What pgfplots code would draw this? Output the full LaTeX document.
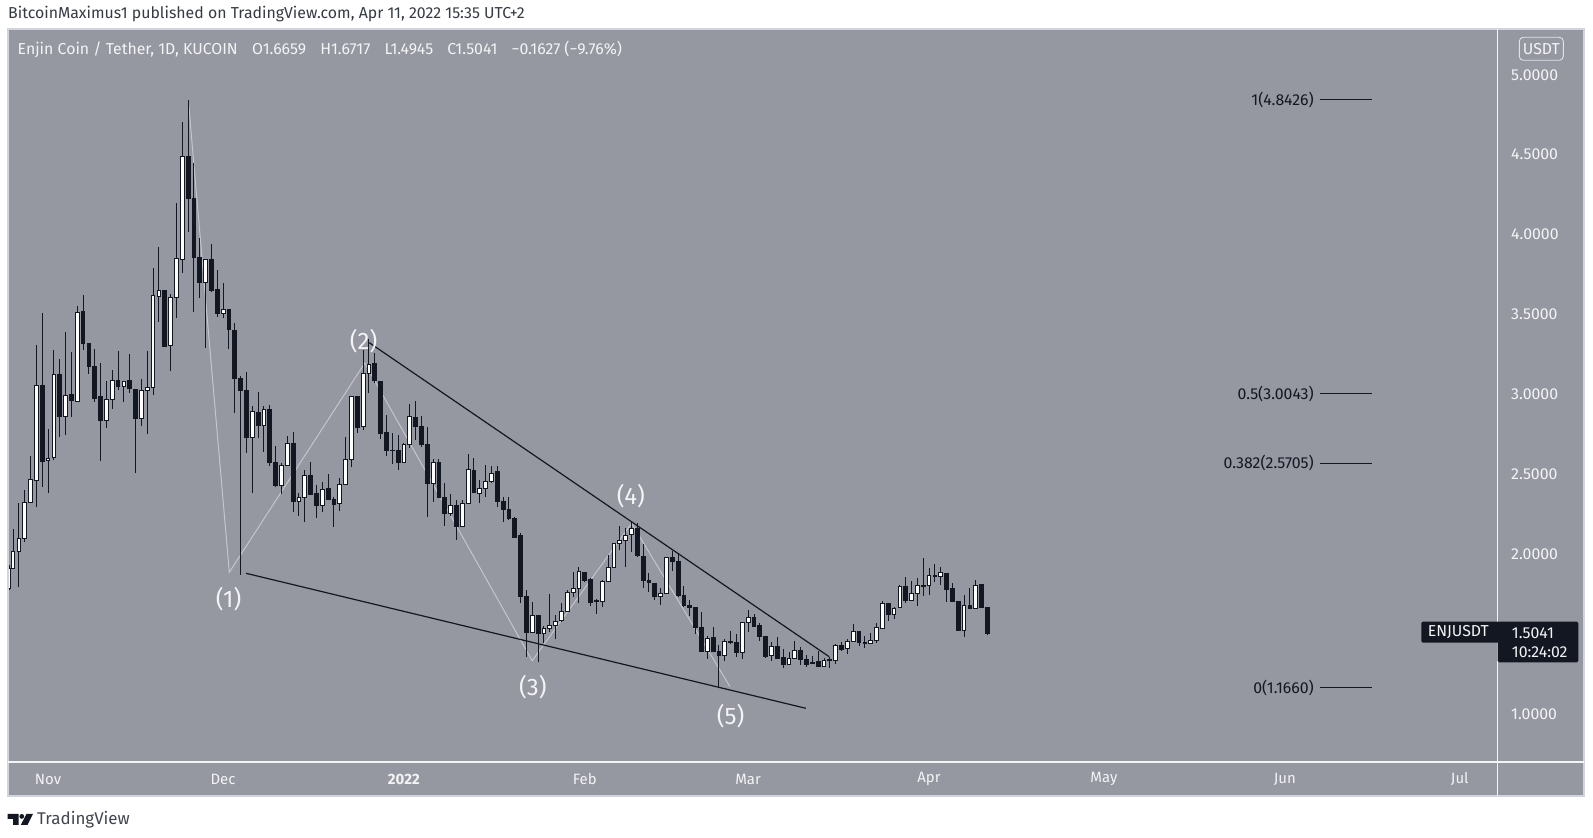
\documentclass[border=0pt]{standalone}
\usepackage{fontspec}
\usepackage{pgfplots}
\pgfplotsset{compat=1.18}
\setmainfont{Fira Sans}

\definecolor{pane}{HTML}{9598A1}
\definecolor{ink}{HTML}{131722}
\definecolor{soft}{HTML}{F4F4F6}
\definecolor{rim}{HTML}{D1D4DC}
\definecolor{wave}{HTML}{C4C6CC}

% day (0 = 1 Nov 2021), open, high, low, close
\newcommand{\candle}[6]{%
  \pgfmathsetmacro{\xa}{#1-0.32}\pgfmathsetmacro{\xb}{#1+0.32}%
  \addplot[ink,line width=0.8bp,forget plot] coordinates {(#1,#4) (#1,#3)};%
  \addplot[draw=ink,fill=#6,line width=0.75bp,line join=miter,forget plot] coordinates {(\xa,#2) (\xb,#2) (\xb,#5) (\xa,#5) (\xa,#2)} --cycle;%
}
\newcommand{\up}[5]{\candle{#1}{#2}{#3}{#4}{#5}{white}}
\newcommand{\dn}[5]{\candle{#1}{#2}{#3}{#4}{#5}{ink}}
\newcommand{\lab}{\fontsize{15.9}{18}\selectfont}
\newcommand{\mon}{\fontsize{15}{17}\selectfont}
\newcommand{\wv}{\fontsize{24}{26}\selectfont}

\begin{document}
\begin{tikzpicture}
\path[use as bounding box] (0,0) rectangle (1593bp,838bp);
\fill[white] (0,0) rectangle (1593bp,838bp);
\fill[pane] (8bp,42bp) rectangle (1584bp,809bp);

\begin{axis}[
    at={(8bp,76bp)}, anchor=south west,
    scale only axis,
    width=1489.7bp, height=733bp,
    xmin=-6.856, xmax=248.5,
    ymin=0.6996, ymax=5.2866,
    axis line style={draw=none},
    major tick length=0pt,
    xtick pos=bottom,
    ytick pos=right,
    yticklabel pos=right,
    xtick={0,30,61,92,120,151,181,212,242},
    xticklabels={Nov,Dec,\textbf{2022},Feb,Mar,Apr,May,Jun,Jul},
    ytick={1,2,2.5,3,3.5,4,4.5,5},
    xticklabel style={font=\mon,text=soft,anchor=center,yshift=-17bp},
    yticklabel style={font=\lab,text=soft,anchor=west,xshift=10bp,
        /pgf/number format/.cd,fixed,fixed zerofill,precision=4,assume math mode=true},
]
% wave count
\addplot[wave,line width=1bp] coordinates {(24.05,4.8426) (31.08,1.8867) (54.3,3.1965) (83.0,1.3335) (100.05,2.1934) (116.9,1.1708)};

\up{-6.7}{1.786}{1.932}{1.776}{1.911}
\up{-6}{1.911}{2.156}{1.911}{2.016}
\up{-5}{2.016}{2.318}{1.797}{2.099}
\up{-4}{2.099}{2.402}{2.078}{2.322}
\up{-3}{2.324}{2.614}{2.322}{2.470}
\up{-2}{2.464}{3.309}{2.297}{3.057}
\dn{-1}{3.057}{3.507}{2.423}{2.579}
\up{0}{2.587}{2.781}{2.381}{2.598}
\up{1}{2.606}{3.278}{2.589}{3.123}
\dn{2}{3.128}{3.219}{2.731}{2.861}
\up{3}{2.863}{3.393}{2.746}{2.996}
\dn{4}{2.998}{3.267}{2.861}{2.965}
\up{5}{2.959}{3.553}{2.950}{3.511}
\dn{6}{3.518}{3.622}{3.278}{3.320}
\dn{7}{3.320}{3.320}{3.128}{3.178}
\dn{8}{3.174}{3.282}{2.954}{2.975}
\dn{9}{2.986}{3.199}{2.585}{2.836}
\up{10}{2.838}{3.084}{2.790}{2.971}
\up{11}{2.971}{3.153}{2.911}{3.088}
\dn{12}{3.088}{3.274}{3.028}{3.048}
\up{13}{3.053}{3.084}{2.950}{3.084}
\dn{14}{3.090}{3.251}{3.011}{3.036}
\dn{15}{3.032}{3.032}{2.506}{2.848}
\up{16}{2.850}{3.094}{2.802}{3.023}
\up{17}{3.023}{3.272}{2.750}{3.042}
\up{18}{3.044}{3.789}{2.994}{3.620}
\up{19}{3.612}{3.925}{3.455}{3.653}
\dn{20}{3.649}{3.649}{3.299}{3.299}
\up{21}{3.307}{3.626}{3.148}{3.607}
\up{22}{3.607}{4.196}{3.476}{3.851}
\up{23}{3.845}{4.703}{3.762}{4.490}
\dn{24}{4.490}{4.8426}{4.018}{4.225}
\dn{25}{4.225}{4.446}{3.518}{3.858}
\dn{26}{3.860}{3.977}{3.601}{3.704}
\up{27}{3.704}{3.845}{3.288}{3.845}
\dn{28}{3.847}{3.939}{3.639}{3.651}
\dn{29}{3.655}{3.779}{3.482}{3.505}
\up{30}{3.507}{3.695}{3.476}{3.532}
\dn{31}{3.532}{3.532}{3.282}{3.407}
\dn{32}{3.403}{3.445}{2.881}{3.098}
\dn{33}{3.103}{3.115}{1.870}{3.023}
\dn{34}{3.023}{3.142}{2.635}{2.733}
\up{35}{2.733}{2.927}{2.381}{2.894}
\dn{36}{2.888}{3.013}{2.725}{2.807}
\up{37}{2.805}{2.928}{2.642}{2.907}
\dn{38}{2.907}{2.934}{2.554}{2.573}
\dn{39}{2.573}{2.677}{2.423}{2.429}
\up{40}{2.431}{2.573}{2.375}{2.554}
\up{41}{2.554}{2.742}{2.554}{2.696}
\dn{42}{2.696}{2.763}{2.266}{2.329}
\up{43}{2.329}{2.381}{2.241}{2.354}
\up{44}{2.356}{2.527}{2.199}{2.492}
\dn{45}{2.492}{2.575}{2.370}{2.377}
\dn{46}{2.383}{2.433}{2.224}{2.304}
\up{47}{2.304}{2.454}{2.266}{2.406}
\dn{48}{2.414}{2.502}{2.337}{2.341}
\dn{49}{2.341}{2.360}{2.172}{2.310}
\up{50}{2.318}{2.475}{2.270}{2.439}
\up{51}{2.439}{2.731}{2.437}{2.594}
\up{52}{2.594}{2.986}{2.548}{2.986}
\dn{53}{2.986}{2.986}{2.756}{2.796}
\up{54}{2.798}{3.278}{2.777}{3.132}
\up{55}{3.132}{3.345}{3.007}{3.190}
\dn{56}{3.192}{3.257}{3.069}{3.086}
\dn{57}{3.084}{3.086}{2.719}{2.756}
\dn{58}{2.761}{2.871}{2.615}{2.648}
\dn{59}{2.652}{2.756}{2.564}{2.648}
\dn{60}{2.652}{2.746}{2.527}{2.577}
\up{61}{2.577}{2.698}{2.573}{2.690}
\up{62}{2.690}{2.938}{2.667}{2.861}
\dn{63}{2.859}{2.957}{2.715}{2.798}
\dn{64}{2.800}{2.865}{2.673}{2.688}
\dn{65}{2.690}{2.794}{2.235}{2.444}
\up{66}{2.444}{2.594}{2.329}{2.573}
\dn{67}{2.575}{2.594}{2.350}{2.354}
\dn{68}{2.356}{2.448}{2.179}{2.258}
\up{69}{2.256}{2.377}{2.239}{2.304}
\dn{70}{2.304}{2.339}{2.089}{2.172}
\up{71}{2.172}{2.339}{2.168}{2.316}
\up{72}{2.316}{2.625}{2.314}{2.529}
\dn{73}{2.523}{2.600}{2.381}{2.385}
\up{74}{2.381}{2.464}{2.318}{2.412}
\up{75}{2.412}{2.556}{2.360}{2.456}
\up{76}{2.456}{2.552}{2.444}{2.508}
\dn{77}{2.517}{2.552}{2.297}{2.329}
\dn{78}{2.331}{2.360}{2.199}{2.283}
\dn{79}{2.279}{2.360}{2.214}{2.224}
\dn{80}{2.226}{2.235}{2.103}{2.108}
\dn{81}{2.120}{2.131}{1.693}{1.738}
\dn{82}{1.738}{1.776}{1.359}{1.511}
\up{83}{1.511}{1.703}{1.505}{1.615}
\dn{84}{1.617}{1.617}{1.323}{1.505}
\up{85}{1.507}{1.551}{1.442}{1.536}
\up{86}{1.538}{1.749}{1.515}{1.557}
\up{87}{1.557}{1.620}{1.467}{1.582}
\up{88}{1.584}{1.697}{1.578}{1.642}
\up{89}{1.640}{1.776}{1.638}{1.763}
\up{90}{1.763}{1.891}{1.734}{1.788}
\up{91}{1.788}{1.922}{1.693}{1.893}
\dn{92}{1.888}{1.891}{1.824}{1.838}
\dn{93}{1.843}{1.849}{1.676}{1.701}
\dn{94}{1.709}{1.719}{1.626}{1.703}
\up{95}{1.705}{1.838}{1.671}{1.828}
\up{96}{1.828}{1.995}{1.824}{1.916}
\up{97}{1.918}{2.072}{1.916}{2.066}
\up{98}{2.066}{2.176}{2.026}{2.089}
\up{99}{2.089}{2.162}{1.922}{2.116}
\up{100}{2.124}{2.203}{2.016}{2.162}
\dn{101}{2.164}{2.193}{1.985}{1.995}
\dn{102}{1.989}{2.062}{1.786}{1.834}
\dn{103}{1.838}{1.880}{1.765}{1.822}
\dn{104}{1.815}{1.817}{1.713}{1.736}
\up{105}{1.736}{1.786}{1.682}{1.757}
\up{106}{1.755}{1.985}{1.751}{1.980}
\dn{107}{1.982}{2.022}{1.897}{1.953}
\dn{108}{1.957}{2.009}{1.734}{1.742}
\dn{109}{1.744}{1.803}{1.671}{1.680}
\dn{110}{1.680}{1.713}{1.613}{1.667}
\dn{111}{1.667}{1.671}{1.498}{1.540}
\dn{112}{1.540}{1.640}{1.388}{1.390}
\up{113}{1.390}{1.488}{1.344}{1.475}
\dn{114}{1.477}{1.546}{1.388}{1.390}
\dn{115}{1.392}{1.432}{1.1660}{1.365}
\up{116}{1.367}{1.467}{1.329}{1.455}
\dn{117}{1.455}{1.521}{1.438}{1.446}
\dn{118}{1.448}{1.500}{1.359}{1.384}
\up{119}{1.384}{1.578}{1.346}{1.571}
\up{120}{1.571}{1.651}{1.515}{1.603}
\dn{121}{1.605}{1.626}{1.546}{1.551}
\dn{122}{1.553}{1.567}{1.457}{1.488}
\dn{123}{1.488}{1.490}{1.348}{1.363}
\up{124}{1.365}{1.453}{1.332}{1.423}
\dn{125}{1.423}{1.484}{1.348}{1.350}
\dn{126}{1.355}{1.405}{1.286}{1.313}
\up{127}{1.313}{1.390}{1.307}{1.346}
\up{128}{1.346}{1.459}{1.344}{1.396}
\dn{129}{1.400}{1.417}{1.307}{1.340}
\dn{130}{1.342}{1.367}{1.296}{1.313}
\dn{131}{1.321}{1.363}{1.313}{1.315}
\dn{132}{1.327}{1.394}{1.294}{1.298}
\up{133}{1.300}{1.348}{1.296}{1.333}
\dn{134}{1.342}{1.358}{1.286}{1.337}
\up{135}{1.333}{1.438}{1.313}{1.429}
\dn{136}{1.431}{1.448}{1.396}{1.406}
\up{137}{1.409}{1.469}{1.375}{1.454}
\up{138}{1.454}{1.561}{1.450}{1.519}
\dn{139}{1.519}{1.521}{1.427}{1.448}
\dn{140}{1.450}{1.490}{1.415}{1.442}
\up{141}{1.440}{1.504}{1.436}{1.461}
\up{142}{1.461}{1.571}{1.446}{1.540}
\up{143}{1.538}{1.707}{1.536}{1.692}
\dn{144}{1.694}{1.696}{1.582}{1.621}
\up{145}{1.623}{1.671}{1.594}{1.661}
\up{146}{1.665}{1.805}{1.661}{1.797}
\dn{147}{1.797}{1.855}{1.692}{1.713}
\up{148}{1.711}{1.832}{1.709}{1.757}
\up{149}{1.755}{1.849}{1.678}{1.803}
\dn{150}{1.805}{1.978}{1.740}{1.801}
\up{151}{1.803}{1.911}{1.745}{1.865}
\dn{152}{1.868}{1.939}{1.828}{1.859}
\up{153}{1.861}{1.918}{1.807}{1.886}
\dn{154}{1.882}{1.884}{1.699}{1.782}
\dn{155}{1.784}{1.818}{1.703}{1.705}
\dn{156}{1.707}{1.709}{1.524}{1.526}
\up{157}{1.526}{1.745}{1.484}{1.680}
\dn{158}{1.680}{1.786}{1.659}{1.661}
\up{159}{1.661}{1.839}{1.659}{1.807}
\dn{160}{1.809}{1.811}{1.668}{1.668}
\dn{161}{1.6659}{1.6717}{1.4945}{1.5041}

% falling wedge
\addplot[ink,line width=1.2bp] coordinates {(55.07,3.3235) (133.9,1.3586)};
\addplot[ink,line width=1.2bp] coordinates {(33.94,1.8805) (129.9,1.0357)};

% fib levels
\addplot[ink,line width=1bp] coordinates {(218,4.8426) (226.9,4.8426)};
\addplot[ink,line width=1bp] coordinates {(218,3.0043) (226.9,3.0043)};
\addplot[ink,line width=1bp] coordinates {(218,2.5705) (226.9,2.5705)};
\addplot[ink,line width=1bp] coordinates {(218,1.1660) (226.9,1.1660)};
\node[anchor=east,inner sep=0pt,text=ink,font=\lab] at (axis cs:217,4.8426) {1(4.8426)};
\node[anchor=east,inner sep=0pt,text=ink,font=\lab] at (axis cs:217,3.0043) {0.5(3.0043)};
\node[anchor=east,inner sep=0pt,text=ink,font=\lab] at (axis cs:217,2.5705) {0.382(2.5705)};
\node[anchor=east,inner sep=0pt,text=ink,font=\lab] at (axis cs:217,1.1660) {0(1.1660)};

% wave labels
\node[text=soft,inner sep=0pt,font=\wv] at (axis cs:30.95,1.719) {(1)};
\node[text=soft,inner sep=0pt,font=\wv] at (axis cs:54.1,3.331) {(2)};
\node[text=soft,inner sep=0pt,font=\wv] at (axis cs:83.1,1.168) {(3)};
\node[text=soft,inner sep=0pt,font=\wv] at (axis cs:99.9,2.365) {(4)};
\node[text=soft,inner sep=0pt,font=\wv] at (axis cs:117,0.987) {(5)};
\end{axis}

% screenshot furniture, in reference pixels
\begin{scope}[shift={(0bp,838bp)},x=1bp,y=-1bp]
\draw[rim,line width=1.2bp] (8,29) rectangle (1584,796);
\draw[soft,line width=1.2bp] (1497.7,29) -- (1497.7,796);
\draw[soft,line width=1.2bp] (8,762) -- (1584,762);

\node[anchor=west,inner sep=0pt,text=ink!85!white,font=\lab] at (8,14.5) {BitcoinMaximus1 published on TradingView.com, Apr 11, 2022 15:35 UTC+2};
\node[anchor=west,inner sep=0pt,text=soft,font=\lab] at (17.5,49) {Enjin Coin / Tether, 1D, KUCOIN\hspace{0.9em}O1.6659\hspace{0.9em}H1.6717\hspace{0.9em}L1.4945\hspace{0.9em}C1.5041\hspace{0.9em}−0.1627 (−9.76\%)};

\draw[soft!80!pane,line width=0.9bp,rounded corners=4bp] (1519.3,37.3) rectangle (1563.3,60.3);
\node[text=soft,inner sep=0pt,font=\lab] at (1541.3,48.8) {USDT};

\fill[ink,rounded corners=1.5bp] (1421.3,621.7) rectangle (1500,642.7);
\fill[ink,rounded corners=1.5bp] (1497.7,621.7) rectangle (1578.3,662.3);
\node[text=soft,inner sep=0pt,font=\lab] at (1458.3,632.3) {ENJUSDT};
\node[anchor=west,text=soft,inner sep=0pt,font=\lab] at (1511.7,633.3) {1.5041};
\node[anchor=west,text=soft,inner sep=0pt,font=\lab] at (1511.7,652) {10:24:02};

% TradingView mark
\fill[ink] (7.5,814) -- (18.5,814) -- (18.5,825) -- (13,825) -- (13,819) -- (7.5,819) -- cycle;
\fill[ink] (21.8,816.4) circle (2.4);
\fill[ink] (26.5,814) -- (33,814) -- (27.5,825) -- (20.8,825) -- cycle;
\node[anchor=west,inner sep=0pt,text=ink!80!white,font=\fontsize{17}{19}\selectfont] at (37,820) {TradingView};
\end{scope}
\end{tikzpicture}
\end{document}
